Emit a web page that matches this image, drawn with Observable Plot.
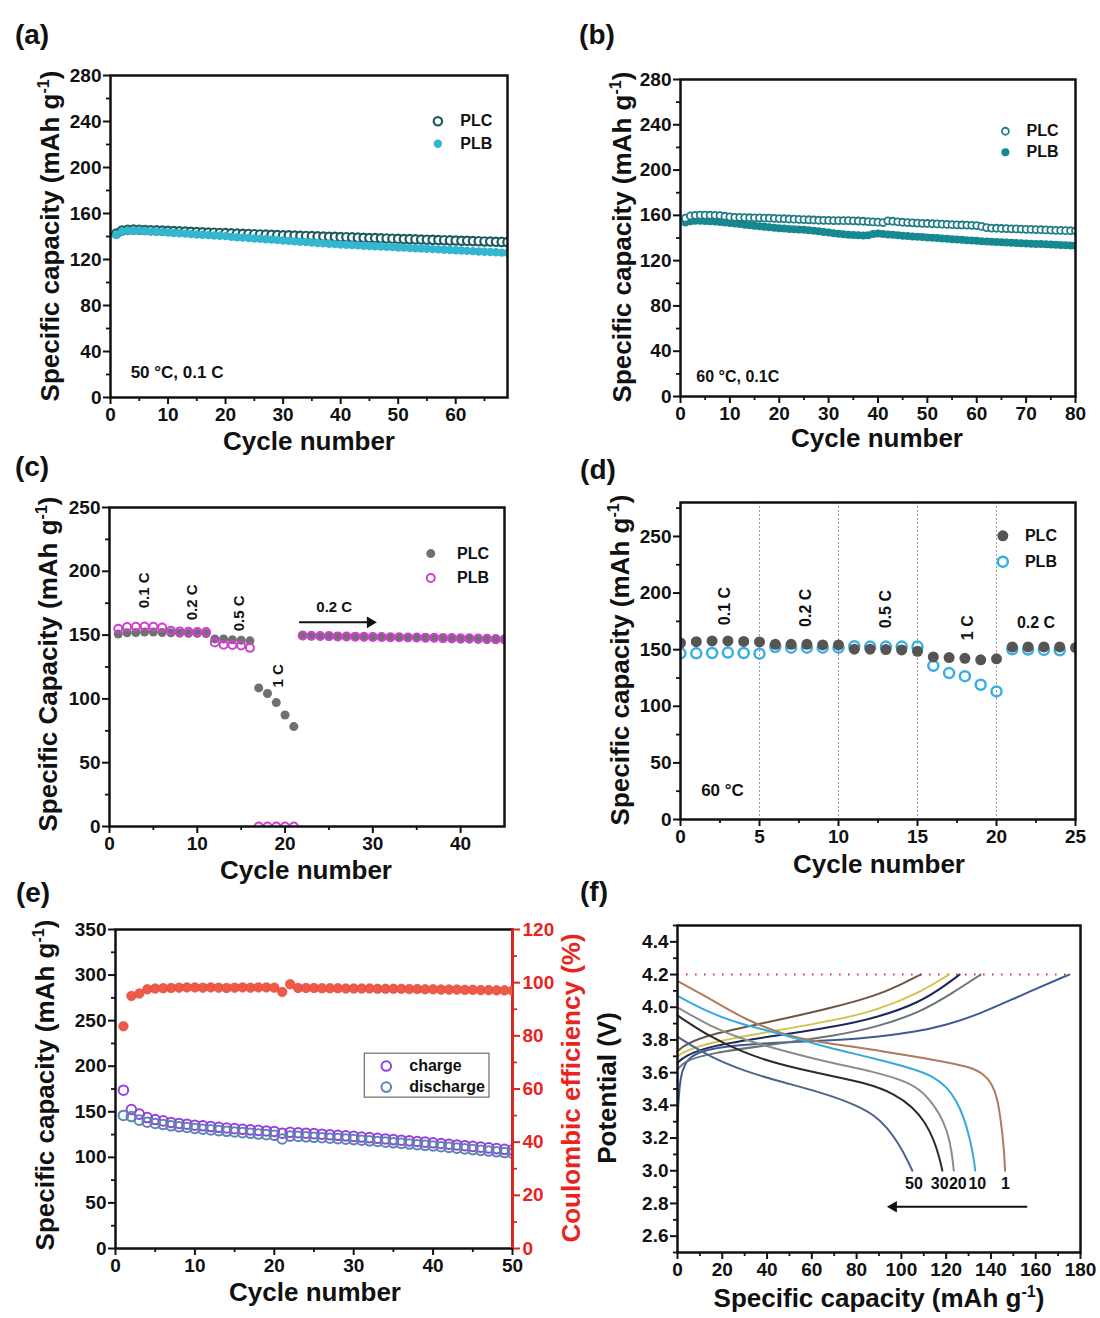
<!DOCTYPE html>
<html><head><meta charset="utf-8">
<script src="https://cdn.jsdelivr.net/npm/d3@7"></script>
<script src="https://cdn.jsdelivr.net/npm/@observablehq/plot@0.6"></script>
<style>
body{margin:0;background:#fff;}
#root{position:relative;width:1100px;height:1318px;overflow:hidden;background:#fff;font-family:'Liberation Sans',Arial,Helvetica,sans-serif;}
.lab{position:absolute;white-space:nowrap;font-weight:bold;color:#111;line-height:1;}
.lab sup{font-size:0.62em;position:relative;top:-0.65em;vertical-align:baseline;line-height:0;}
</style></head><body><div id="root"></div><script>
// ---------------- DATA ----------------
// (a) 50 °C, 0.1 C, cycles 1..69
const aPLC = [142.5,145.2,145.8,146.0,145.9,145.7,145.5,145.3,145.1,144.9,
 144.7,144.5,144.3,144.1,143.9,143.7,143.5,143.3,143.1,142.9,
 142.7,142.5,142.3,142.2,142.0,141.8,141.6,141.5,141.3,141.1,
 141.0,140.8,140.6,140.5,140.3,140.1,140.0,139.8,139.7,139.5,
 139.4,139.2,139.0,138.9,138.7,138.6,138.4,138.3,138.1,138.0,
 137.8,137.7,137.5,137.4,137.2,137.1,136.9,136.8,136.6,136.5,
 136.3,136.2,136.0,135.9,135.7,135.6,135.4,135.3,135.1];
const aPLB = [141.3,144.3,145.0,145.2,145.1,144.8,144.5,144.2,143.8,143.5,
 143.1,142.8,142.5,142.2,141.8,141.5,141.2,140.9,140.6,140.3,
 139.7,139.4,139.0,138.7,138.3,138.0,137.6,137.3,136.9,136.5,
 136.2,135.8,135.5,135.1,134.8,134.4,134.1,133.7,133.4,133.0,
 132.8,132.5,132.3,132.0,131.8,131.5,131.3,131.0,130.8,130.5,
 130.3,130.0,129.8,129.5,129.3,129.0,128.8,128.5,128.3,128.0,
 127.8,127.5,127.3,127.0,126.8,126.5,126.3,126.0,125.8];
const aXTicks = [0,10,20,30,40,50,60], aXMinor = [5,15,25,35,45,55,65];
const aYTicks = [0,40,80,120,160,200,240,280], aYMinor = [20,60,100,140,180,220,260];

// (b) 60 °C, 0.1C, cycles 1..80
const bPLC = [157.5,159.5,160.0,160.2,160.2,160.1,160.0,159.8,159.2,158.6,
 158.3,158.2,158.0,157.9,157.8,157.7,157.6,157.5,157.4,157.2,
 157.0,156.8,156.6,156.5,156.3,156.1,155.9,155.7,155.6,155.5,
 155.4,155.4,155.3,155.3,155.2,155.0,154.8,154.5,154.2,154.0,
 153.6,155.2,154.8,154.3,153.9,153.6,153.4,153.2,153.0,152.8,
 152.6,152.4,152.2,152.0,151.8,151.6,151.5,151.4,151.2,151.0,
 150.2,149.2,148.8,148.6,148.4,148.3,148.1,148.0,147.9,147.7,
 147.6,147.4,147.3,147.1,147.0,146.8,146.7,146.5,146.4,146.2];
const bPLB = [153.6,154.8,155.2,155.3,155.1,154.8,154.5,154.2,153.8,153.3,
 152.8,152.3,151.8,151.3,150.8,150.3,149.9,149.5,149.1,148.7,
 148.3,148.0,147.7,147.4,147.2,146.9,146.5,146.0,145.4,144.8,
 144.2,143.7,143.3,142.9,142.6,142.4,142.3,142.5,143.6,144.0,
 143.6,143.2,142.8,142.4,142.0,141.7,141.4,141.1,140.8,140.5,
 140.2,139.9,139.6,139.3,139.0,138.7,138.4,138.1,137.8,137.5,
 137.2,136.9,136.7,136.5,136.3,136.0,135.8,135.6,135.4,135.2,
 135.0,134.8,134.6,134.4,134.2,134.0,133.8,133.6,133.4,133.2];
const bXTicks = [0,10,20,30,40,50,60,70,80], bXMinor = [5,15,25,35,45,55,65,75];

// (c) rate test, cycles 1..45
const cPLC = [150.8,151.8,152.0,152.4,152.4,152.0,151.8,151.5,151.3,151.3,151.2,
 147.0,146.9,146.3,146.0,145.5,
 108.6,104.2,97.1,87.4,78.3,
 149.5,149.3,149.2,149.0,148.9,148.8,148.7,148.6,148.5,148.4,148.3,148.2,148.1,148.0,147.9,147.8,147.3,147.0,146.8,146.8,146.6,146.5,146.4,146.3];
const cPLB = [155.0,156.3,156.5,156.8,156.5,156.0,153.4,152.9,152.6,152.4,152.4,
 144.2,142.4,142.2,141.8,140.0,
 0,0,0,0,0,
 149.7,149.5,149.3,149.2,149.0,148.9,148.8,148.7,148.6,148.5,148.4,148.3,148.2,148.1,148.0,147.9,147.8,147.7,147.6,147.5,147.3,147.2,147.0,146.8];
const cRateLabels = [{t:"0.1 C",x:4.0,y:185},{t:"0.2 C",x:9.4,y:175.6},{t:"0.5 C",x:14.8,y:167},{t:"1 C",x:19.2,y:118}];
const cXTicks = [0,10,20,30,40], cXMinor = [5,15,25,35];
const cYTicks = [0,50,100,150,200,250], cYMinor = [25,75,125,175,225];

// (d) rate test 60 °C, cycles 0..25
const dPLC = [155.9,157.1,157.7,157.7,157.3,156.8, 154.7,154.7,154.7,154.2,154.2,
 150.4,150.4,150.1,149.8,148.6, 143.6,143.0,142.4,141.0,141.9, 152.4,152.4,152.4,152.4,151.8];
const dPLB = [146.8,146.8,147.1,147.4,147.1,146.5, 152.4,151.8,151.8,151.8,151.8,
 153.0,152.7,152.7,152.7,152.7, 135.7,129.3,126.6,119.0,113.1, 150.4,150.1,149.8,149.5];
const dDividers = [5,10,15,20];
const dRateLabels = [{t:"0.1 C",x:2.84,y:188.5},{t:"0.2 C",x:7.94,y:187},{t:"0.5 C",x:12.98,y:185.8},{t:"1 C",x:18.19,y:169.4}];
const dXTicks = [0,5,10,15,20,25], dXMinor = [2.5,7.5,12.5,17.5,22.5];
const dYTicks = [0,50,100,150,200,250], dYMinor = [25,75,125,175,225,275];

// (e) cycling, cycles 1..50
const eCharge = [173.7,152.5,147.4,143.7,141.5,140.0,138.3,137.2,136.4,135.3,
 134.6,133.8,133.0,132.2,131.5,130.8,130.2,129.6,129.0,128.4,
 126.5,127.5,127.0,126.5,126.0,125.4,124.8,124.2,123.6,123.0,
 122.3,121.6,120.9,120.2,119.5,118.8,118.1,117.4,116.7,116.0,
 115.2,114.4,113.6,112.8,112.0,111.2,110.4,109.6,108.8,108.0];
const eDischarge = [146.0,144.8,140.8,138.6,137.2,136.0,134.6,133.5,132.8,131.7,
 130.9,130.1,129.3,128.6,127.8,127.1,126.4,125.6,124.9,124.2,
 120.2,123.3,123.0,122.5,122.0,121.5,121.0,120.5,120.0,119.5,
 118.8,118.1,117.4,116.7,116.0,115.3,114.6,113.9,113.2,112.5,
 111.7,110.9,110.1,109.3,108.5,107.7,106.9,106.1,105.3,104.5];
const eCE = [83.6,95.0,95.9,97.5,97.8,97.9,98.0,98.1,98.2,98.2,
 98.1,98.2,98.1,98.0,98.1,98.2,98.1,98.2,98.2,98.1,
 96.5,99.4,98.0,98.0,98.0,97.9,97.9,97.9,97.8,97.8,
 97.8,97.8,97.7,97.7,97.7,97.7,97.6,97.6,97.5,97.5,
 97.4,97.4,97.4,97.3,97.3,97.2,97.2,97.1,97.1,97.0];
const eXTicks = [0,10,20,30,40,50], eXMinor = [5,15,25,35,45];
const eYTicks = [0,50,100,150,200,250,300,350], eYMinor = [25,75,125,175,225,275,325];
const eRTicks = [0,20,40,60,80,100,120], eRMinor = [10,30,50,70,90,110];

// (f) charge / discharge profiles [capacity, potential]
const fDis1  = [[0,4.16],[8,4.10],[16,4.04],[31,3.92],[46,3.84],[61,3.79],[86,3.745],[105,3.70],[120,3.665],[131,3.633],[137,3.59],[140.5,3.53],[142.8,3.45],[144.5,3.3],[145.8,3.14],[146.3,3.0]];
const fDis10 = [[0,4.07],[15,3.96],[30,3.89],[44,3.847],[65,3.76],[89,3.684],[105,3.625],[114,3.58],[120.5,3.51],[124.5,3.43],[127.9,3.327],[130.5,3.2],[132.3,3.08],[133,3.0]];
const fDis20 = [[0,4.0],[15,3.88],[30,3.80],[44.3,3.745],[65,3.67],[89,3.602],[101,3.551],[108,3.50],[113,3.429],[117,3.35],[120.5,3.245],[122.5,3.12],[123.4,3.0]];
const fDis30 = [[0,3.95],[14.6,3.817],[30,3.72],[44.3,3.654],[65,3.59],[85,3.535],[97,3.47],[105,3.39],[110.5,3.30],[114.5,3.19],[117,3.08],[118.3,3.0]];
const fDis50 = [[0,3.82],[14.6,3.694],[30,3.61],[44.3,3.551],[66.6,3.47],[80,3.40],[88,3.34],[94,3.26],[99,3.16],[102.5,3.07],[104.9,3.0]];
const fChg1  = [[0,3.3],[1,3.6],[5,3.7],[14.6,3.755],[44.3,3.786],[75.9,3.8],[89,3.82],[105.6,3.847],[120,3.89],[135.3,3.96],[153.2,4.072],[175,4.2]];
const fChg10 = [[0,3.62],[3,3.67],[14.6,3.72],[44.3,3.776],[70,3.825],[88.9,3.878],[108.6,3.97],[123.4,4.092],[135.4,4.2]];
const fChg20 = [[0,3.66],[3,3.70],[14.6,3.766],[44.3,3.827],[70,3.88],[88.9,3.935],[108.6,4.031],[120.5,4.143],[126,4.2]];
const fChg30 = [[0,3.7],[3,3.73],[14.6,3.786],[44.3,3.858],[70,3.92],[88.9,3.98],[108.6,4.092],[121.2,4.2]];
const fChg50 = [[0,3.73],[3,3.77],[14.6,3.837],[44.3,3.919],[70,4.0],[88.9,4.072],[100,4.14],[108.6,4.2]];
const fCycleLabels = [{t:"50",x:105.6},{t:"30",x:117.1},{t:"20",x:125.2},{t:"10",x:133.9},{t:"1",x:146.5}];
const fCutoff = 4.2;
const fXTicks = [0,20,40,60,80,100,120,140,160,180], fXMinor = [10,30,50,70,90,110,130,150,170];
const fYTicks = [2.6,2.8,3.0,3.2,3.4,3.6,3.8,4.0,4.2,4.4], fYMinor = [2.5,2.7,2.9,3.1,3.3,3.5,3.7,3.9,4.1,4.3,4.5];

// ---------------- DRAWING ----------------
const FONT = "'Liberation Sans', Arial, Helvetica, sans-serif";
const INK = "#111";
const RED = "#e8251c";
const root = document.getElementById("root");

const series = (arr, start=1) => arr.map((v,i)=>({c:i+start, v}));

function axes(xT, xM, yT, yM, fmtY) {
  return [
    Plot.axisX(xM, {tickSize:4, strokeWidth:1.8, tickFormat:()=>"", label:null}),
    Plot.axisX(xT, {tickSize:7, tickPadding:3, strokeWidth:2, label:null}),
    Plot.axisY(yM, {tickSize:4, strokeWidth:1.8, tickFormat:()=>"", label:null}),
    Plot.axisY(yT, {tickSize:7, tickPadding:2, strokeWidth:2, label:null, tickFormat:fmtY})
  ];
}
function panel(o) {
  return Plot.plot({
    width:o.w, height:o.h, marginLeft:o.ml, marginRight:o.mr, marginTop:o.mt, marginBottom:o.mb,
    x:{domain:o.xd, axis:null}, y:{domain:o.yd, axis:null},
    style:{fontFamily:FONT, fontSize:"19px", fontWeight:"bold", color:INK, background:"transparent", overflow:"visible"},
    marks:o.marks
  });
}
function place(el, left, top) {
  el.style.position = "absolute"; el.style.left = left+"px"; el.style.top = top+"px";
  root.appendChild(el);
}
function lab(html, cx, cy, {rot=0, size=26, color=INK}={}) {
  const d = document.createElement("div");
  d.className = "lab"; d.innerHTML = html;
  d.style.left = cx+"px"; d.style.top = cy+"px"; d.style.fontSize = size+"px"; d.style.color = color;
  d.style.transform = `translate(-50%,-50%) rotate(${rot}deg)`;
  root.appendChild(d);
}
const legendText = (x, y, t, size=16) => Plot.text([{x,y,t}], {x:"x", y:"y", text:"t", textAnchor:"start", fontSize:size, fontWeight:"bold", fill:INK});
const frame = () => Plot.frame({stroke:INK, strokeWidth:2.5});
// arrow: shaft + filled triangular head
function arrowMarks(a) {
  return [
    Plot.link([a], {x1:"x1", x2:"xh", y1:"y", y2:"y", stroke:INK, strokeWidth:2}),
    Plot.dot([a], {x:"xh", y:"y", symbol:"triangle", r:4.3, fill:INK, rotate:a.rot})
  ];
}

// (a)
const aC = "#1d5a60", aB = "#34b6d0";
place(panel({w:550,h:450,ml:110,mr:43,mt:75,mb:53, xd:[0,69], yd:[0,280], marks:[
  ...axes(aXTicks,aXMinor,aYTicks,aYMinor),
  Plot.dot(series(aPLC), {x:"c", y:"v", r:4.2, stroke:aC, strokeWidth:2.2, fill:"white", clip:true}),
  Plot.dot(series(aPLB), {x:"c", y:"v", r:4.2, fill:aB, clip:true}),
  Plot.dot([{x:56.9,y:240.2}], {x:"x", y:"y", r:4.2, stroke:aC, strokeWidth:2.2}),
  Plot.dot([{x:56.9,y:220.6}], {x:"x", y:"y", r:4.2, fill:aB}),
  legendText(60.8, 240.2, "PLC"), legendText(60.8, 220.6, "PLB"),
  legendText(3.5, 21.8, "50 °C, 0.1 C", 17),
  frame()
]}), 0, 0);

// (b)
const bC = "#1f7d84", bB = "#168891";
place(panel({w:550,h:450,ml:130,mr:25,mt:79,mb:54, xd:[0,80], yd:[0,280], marks:[
  ...axes(bXTicks,bXMinor,aYTicks,aYMinor),
  Plot.dot(series(bPLB), {x:"c", y:"v", r:4, fill:bB, clip:true}),
  Plot.dot(series(bPLC), {x:"c", y:"v", r:3.5, stroke:bC, strokeWidth:1.8, fill:"white", clip:true}),
  Plot.dot([{x:65.8,y:234.3}], {x:"x", y:"y", r:3.5, stroke:bC, strokeWidth:1.8}),
  Plot.dot([{x:65.8,y:215.7}], {x:"x", y:"y", r:4, fill:bB}),
  legendText(70.1, 234.3, "PLC"), legendText(70.1, 215.7, "PLB"),
  legendText(3.2, 17.4, "60 °C, 0.1C", 16),
  frame()
]}), 550, 0);

// (c)
const cC = "#707070", cB = "#d23fd2";
place(panel({w:550,h:430,ml:109,mr:46,mt:57,mb:54, xd:[0,45], yd:[0,250], marks:[
  ...axes(cXTicks,cXMinor,cYTicks,cYMinor),
  Plot.dot(series(cPLC), {x:"c", y:"v", r:4.5, fill:cC, clip:true}),
  Plot.dot(series(cPLB), {x:"c", y:"v", r:4, stroke:cB, strokeWidth:2, fill:"none", clip:true}),
  Plot.dot([{x:36.6,y:213.9}], {x:"x", y:"y", r:4.5, fill:cC}),
  Plot.dot([{x:36.6,y:194.7}], {x:"x", y:"y", r:4, stroke:cB, strokeWidth:2}),
  legendText(39.6, 213.9, "PLC"), legendText(39.6, 194.7, "PLB"),
  Plot.text(cRateLabels, {x:"x", y:"y", text:"t", rotate:-90, fontSize:15, fontWeight:"bold", fill:INK}),
  Plot.text([{x:25.6,y:171.6,t:"0.2 C"}], {x:"x", y:"y", text:"t", fontSize:15, fontWeight:"bold", fill:INK}),
  ...arrowMarks({x1:21.6, xh:29.7, y:160, rot:90}),
  frame()
]}), 0, 450);

// (d)
const dC = "#555555", dB = "#3aaee3";
place(panel({w:550,h:430,ml:130,mr:25,mt:52,mb:61, xd:[0,25], yd:[0,280], marks:[
  Plot.ruleX(dDividers, {stroke:"#9a9a9a", strokeWidth:1, strokeDasharray:"2,2"}),
  ...axes(dXTicks,dXMinor,dYTicks,dYMinor),
  Plot.dot(series(dPLB,0), {x:"c", y:"v", r:5, stroke:dB, strokeWidth:2.5, fill:"none", clip:true}),
  Plot.dot(series(dPLC,0), {x:"c", y:"v", r:5.5, fill:dC, clip:true}),
  Plot.dot([{x:20.4,y:250.6}], {x:"x", y:"y", r:5.5, fill:dC}),
  Plot.dot([{x:20.4,y:227.7}], {x:"x", y:"y", r:5, stroke:dB, strokeWidth:2.5}),
  legendText(21.8, 250.6, "PLC"), legendText(21.8, 227.7, "PLB"),
  Plot.text(dRateLabels, {x:"x", y:"y", text:"t", rotate:-90, fontSize:16, fontWeight:"bold", fill:INK}),
  Plot.text([{x:22.5,y:173.8,t:"0.2 C"}], {x:"x", y:"y", text:"t", fontSize:16, fontWeight:"bold", fill:INK}),
  Plot.text([{x:2.66,y:25.8,t:"60 °C"}], {x:"x", y:"y", text:"t", fontSize:17, fontWeight:"bold", fill:INK}),
  frame()
]}), 550, 450);

// (e)
const eCh = "#9440e0", eDc = "#5f84b4", eCEc = "#ef5a48";
place(panel({w:600,h:438,ml:115,mr:88,mt:49,mb:70, xd:[0,50], yd:[0,350], marks:[
  ...axes(eXTicks,eXMinor,eYTicks,eYMinor),
  Plot.dot(series(eCharge), {x:"c", y:"v", r:4.8, stroke:eCh, strokeWidth:2, fill:"none", clip:true}),
  Plot.dot(series(eDischarge), {x:"c", y:"v", r:4.8, stroke:eDc, strokeWidth:2, fill:"none", clip:true}),
  Plot.rect([{x1:31.4,x2:47.1,y1:165.5,y2:213.7}], {x1:"x1", x2:"x2", y1:"y1", y2:"y2", fill:"white", stroke:"#777", strokeWidth:1.3}),
  Plot.dot([{x:34.1,y:200.2}], {x:"x", y:"y", r:4.8, stroke:eCh, strokeWidth:2}),
  Plot.dot([{x:34.1,y:177.1}], {x:"x", y:"y", r:4.8, stroke:eDc, strokeWidth:2}),
  legendText(37.0, 200.2, "charge"), legendText(37.0, 177.1, "discharge"),
  frame()
]}), 0, 880);
place(panel({w:600,h:438,ml:115,mr:88,mt:49,mb:70, xd:[0,50], yd:[0,120], marks:[
  Plot.ruleX([50], {stroke:RED, strokeWidth:2.5}),
  Plot.axisY(eRMinor, {anchor:"right", tickSize:4, strokeWidth:1.8, tickFormat:()=>"", label:null, color:RED}),
  Plot.axisY(eRTicks, {anchor:"right", tickSize:7, tickPadding:3, strokeWidth:2, label:null, color:RED}),
  Plot.dot(series(eCE), {x:"c", y:"v", r:4.8, fill:eCEc, stroke:"#d9463a", strokeWidth:0.6, clip:true})
]}), 0, 880);

// (f)
const fCurves = [
  {d:fChg1, c:"#3c5d94"}, {d:fChg10, c:"#6b7278"}, {d:fChg20, c:"#1c2757"}, {d:fChg30, c:"#d4c24e"}, {d:fChg50, c:"#6e5547"},
  {d:fDis1, c:"#b07a5c"}, {d:fDis10, c:"#36a9d8"}, {d:fDis20, c:"#8c8c8c"}, {d:fDis30, c:"#2b2b2b"}, {d:fDis50, c:"#4f628f"}
];
place(panel({w:500,h:438,ml:77,mr:20,mt:45,mb:66, xd:[0,180], yd:[2.5,4.5], marks:[
  ...axes(fXTicks,fXMinor,fYTicks,fYMinor,d3.format(".1f")),
  Plot.ruleY([fCutoff], {x1:0, x2:175.5, stroke:"#e03a3a", strokeWidth:2, strokeDasharray:"1.6,7.4"}),
  ...fCurves.map(k => Plot.line(k.d, {x:d=>d[0], y:d=>d[1], stroke:k.c, strokeWidth:2, curve:"basis"})),
  Plot.text(fCycleLabels, {x:"x", y:2.92, text:"t", fontSize:16, fontWeight:"bold", fill:INK}),
  ...arrowMarks({x1:156.2, xh:96.5, y:2.78, rot:-90}),
  frame()
]}), 600, 880);

// ---------------- TEXT ----------------
const yCap = 'Specific capacity (mAh g<sup>-1</sup>)';
lab("(a)", 32, 35, {size:28}); lab("(b)", 597, 35, {size:28});
lab("(c)", 32, 467, {size:28}); lab("(d)", 598, 470, {size:28});
lab("(e)", 33, 893, {size:28}); lab("(f)", 594, 892, {size:28});
lab(yCap, 50, 236, {rot:-90}); lab("Cycle number", 309, 441);
lab(yCap, 622, 237, {rot:-90}); lab("Cycle number", 877, 438);
lab('Specific Capacity (mAh g<sup>-1</sup>)', 48, 664, {rot:-90}); lab("Cycle number", 306, 870);
lab(yCap, 620, 660, {rot:-90}); lab("Cycle number", 879, 864);
lab(yCap, 45, 1085, {rot:-90}); lab("Coulombic efficiency (%)", 571, 1088, {rot:-90, color:RED}); lab("Cycle number", 315, 1292);
lab("Potential (V)", 607, 1088, {rot:-90}); lab(yCap, 879, 1298);
</script></body></html>
